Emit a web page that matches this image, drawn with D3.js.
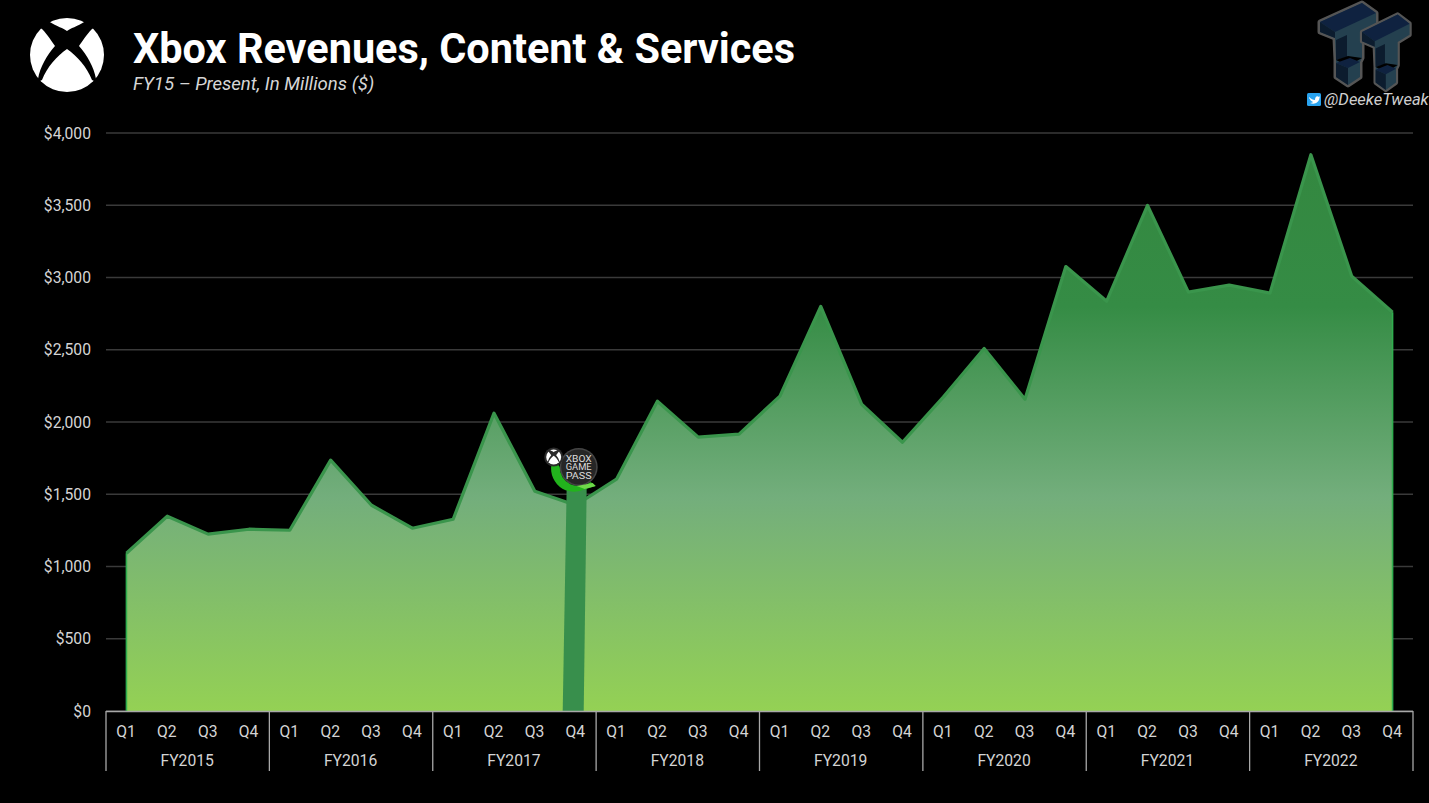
<!DOCTYPE html>
<html>
<head>
<meta charset="utf-8"/>
<script src="https://cdnjs.cloudflare.com/ajax/libs/d3/7.8.5/d3.min.js"></script>
<style>
  html, body { margin: 0; padding: 0; background: #000; overflow: hidden; }
  text { font-family: Roboto, sans-serif; }
</style>
</head>
<body>
<script>
// chart data
const years = ['FY2015', 'FY2016', 'FY2017', 'FY2018', 'FY2019', 'FY2020', 'FY2021', 'FY2022'];
const quarters = ['Q1', 'Q2', 'Q3', 'Q4'];
const revenue = [
  1092, 1348, 1224, 1258,
  1251, 1736, 1424, 1265,
  1327, 2061, 1521, 1424,
  1604, 2144, 1895, 1916,
  2179, 2800, 2123, 1860,
  2172, 2509, 2158, 3076,
  2836, 3499, 2899, 2947,
  2892, 3850, 3009, 2760
];
const yTicks = [0, 500, 1000, 1500, 2000, 2500, 3000, 3500, 4000];

const W = 1429, H = 803;
const plotL = 106, plotR = 1413, plotT = 133, plotB = 711;

const svg = d3.select('body').append('svg')
  .attr('width', W).attr('height', H)
  .style('display', 'block')
  .style('background', '#000');

// one key per quarter, e.g. FY2015-Q1
const keys = years.flatMap(y => quarters.map(q => y + '-' + q));
const points = keys.map((k, i) => ({ key: k, value: revenue[i] }));

const x = d3.scalePoint().domain(keys).range([plotL, plotR]).padding(0.5);
const step = x.step();
const y = d3.scaleLinear().domain([0, 4000]).range([plotB, plotT]);

// gradient fill
const defs = svg.append('defs');
const grad = defs.append('linearGradient').attr('id', 'areaFill')
  .attr('gradientUnits', 'userSpaceOnUse')
  .attr('x1', 0).attr('x2', 0).attr('y1', y(4000)).attr('y2', y(0));
grad.append('stop').attr('offset', '0').attr('stop-color', '#33873f');
grad.append('stop').attr('offset', '0.3').attr('stop-color', '#358c45');
grad.append('stop').attr('offset', '0.63').attr('stop-color', '#73ae7c');
grad.append('stop').attr('offset', '1').attr('stop-color', '#94d154');

// gridlines
svg.append('g').selectAll('line').data(yTicks).enter().append('line')
  .attr('x1', plotL).attr('x2', plotR)
  .attr('y1', d => y(d)).attr('y2', d => y(d))
  .attr('stroke', '#3a3a3a').attr('stroke-width', 1.3);

// y labels
svg.append('g').selectAll('text').data(yTicks).enter().append('text')
  .attr('x', 91).attr('y', d => y(d) + 5.7)
  .attr('text-anchor', 'end')
  .attr('font-size', 15.7).attr('fill', '#d4d4d4')
  .text(d => '$' + d3.format(',')(d));

// area
const area = d3.area().x(d => x(d.key)).y0(y(0)).y1(d => y(d.value));
const line = d3.line().x(d => x(d.key)).y(d => y(d.value));

svg.append('path').datum(points).attr('d', area).attr('fill', 'url(#areaFill)');

// side edges of the area
svg.append('g').selectAll('line').data([points[0], points[points.length - 1]]).enter().append('line')
  .attr('x1', d => x(d.key)).attr('x2', d => x(d.key))
  .attr('y1', d => y(d.value)).attr('y2', y(0))
  .attr('stroke', '#2fae4e').attr('stroke-width', 1.6);

svg.append('path').datum(points).attr('d', line)
  .attr('fill', 'none').attr('stroke', '#3a954c').attr('stroke-width', 3.2)
  .attr('stroke-linejoin', 'round');

// xbox sphere used by the header and the badge
function xboxLogo(parent, cx, cy, r, bg) {
  const g = parent.append('g').attr('transform', `translate(${cx},${cy}) scale(${r / 37})`);
  g.append('circle').attr('r', 37).attr('fill', '#fff');
  g.append('path').attr('fill', bg)
    .attr('d', 'M-19,-34 C-9,-28 -4,-27 0,-24 C4,-27 9,-28 19,-34 L32,-30 L25,-26 C19,-20 15,-13 12,-9 C20,0 27,12 29,24 L40,32 L25,25 C20,12 10,1 0,-6 C-10,1 -20,12 -25,25 L-40,32 L-29,24 C-27,12 -20,0 -12,-9 C-15,-13 -19,-20 -25,-26 L-32,-30 Z');
  return g;
}

// Game Pass launch marker at FY2017 Q4
const gpX = x('FY2017-Q4');
svg.append('path')
  .attr('d', `M${gpX - 13},${y(0)} L${gpX + 8},${y(0)} L${gpX + 11},${y(1560)} L${gpX - 9},${y(1560)} Z`)
  .attr('fill', '#388f4c');

const badge = svg.append('g').attr('transform', `translate(${gpX + 3},467)`);
badge.append('circle').attr('r', 19).attr('fill', '#454545');
badge.append('path')
  .attr('d', 'M-19,0 A19,19 0 0 0 12,15 L17,19 L4,23 A23,23 0 0 1 -25,-9 Z')
  .attr('fill', '#22b31d');
badge.append('path')
  .attr('d', 'M-2,19 L14,16 L17,19 L6,22 Z').attr('fill', '#6fd84a');
badge.append('circle').attr('r', 17.5).attr('fill', '#262626');
['XBOX', 'GAME', 'PASS'].forEach((t, i) => {
  badge.append('text').attr('x', 0).attr('y', -5.2 + i * 8.4)
    .attr('text-anchor', 'middle').attr('font-size', 8.4)
    .attr('textLength', 26).attr('lengthAdjust', 'spacingAndGlyphs')
    .attr('fill', '#dcdcdc').text(t);
});
badge.append('circle').attr('cx', -25).attr('cy', -10).attr('r', 9.5).attr('fill', '#2a2a2a');
xboxLogo(badge, -25, -10, 7.5, '#2a2a2a');

// x axis: quarters and fiscal years
const axisCol = '#a8a8a8';
const band = svg.append('g');
band.append('line').attr('x1', plotL).attr('x2', plotR).attr('y1', y(0) + 0.5).attr('y2', y(0) + 0.5)
  .attr('stroke', axisCol).attr('stroke-width', 1.3);
years.forEach((yr, i) => {
  const left = x(yr + '-Q1') - step / 2;
  const right = x(yr + '-Q4') + step / 2;
  band.append('line').attr('x1', left).attr('x2', left).attr('y1', y(0)).attr('y2', 771)
    .attr('stroke', axisCol).attr('stroke-width', 1.3);
  if (i === years.length - 1) {
    band.append('line').attr('x1', right).attr('x2', right).attr('y1', y(0)).attr('y2', 771)
      .attr('stroke', axisCol).attr('stroke-width', 1.3);
  }
  band.append('text').attr('x', (left + right) / 2 - 0.5).attr('y', 766)
    .attr('text-anchor', 'middle').attr('font-size', 15.7).attr('fill', '#d4d4d4').text(yr);
  quarters.forEach(q => {
    band.append('text').attr('x', x(yr + '-' + q) - 0.4).attr('y', 736.5)
      .attr('text-anchor', 'middle').attr('font-size', 15.7).attr('fill', '#d4d4d4').text(q);
  });
});

// header
xboxLogo(svg, 67, 55, 37, '#000');
svg.append('text').attr('x', 133).attr('y', 63)
  .attr('font-size', 43).attr('font-weight', 700).attr('fill', '#fff')
  .attr('textLength', 662).attr('lengthAdjust', 'spacingAndGlyphs')
  .text('Xbox Revenues, Content & Services');
svg.append('text').attr('x', 133).attr('y', 90)
  .attr('font-size', 18.6).attr('font-style', 'italic').attr('fill', '#d6d6d6')
  .text('FY15 – Present, In Millions ($)');

// TT watermark, top right
function letterT(g) {
  const outline = 'M1320,22 L1362,3 L1376,13 L1376,25 L1362,33 L1362,58 L1360,62 L1360,77 L1348,85 L1336,77 L1336,60 L1335,38 L1320,32 Z';
  g.append('path').attr('d', outline).attr('fill', '#555').attr('stroke', '#555')
    .attr('stroke-width', 5).attr('stroke-linejoin', 'round');
  g.append('path').attr('d', outline).attr('fill', '#24404f');
  g.append('path').attr('d', 'M1320,22 L1362,3 L1376,13 L1335,32 Z').attr('fill', '#0f2240');
  g.append('path').attr('d', 'M1320,22 L1335,32 L1335,38 L1320,32 Z').attr('fill', '#0c1c2e');
  g.append('path').attr('d', 'M1336,40 L1347,35 L1347,57 L1336,60 Z').attr('fill', '#0c1c2e');
  g.append('path').attr('d', 'M1336,60 L1348,56 L1362,58 L1348,66 Z').attr('fill', '#000');
  g.append('path').attr('d', 'M1336,63 L1350,58 L1360,62 L1348,68 Z').attr('fill', '#0f2240');
  g.append('path').attr('d', 'M1336,63 L1348,68 L1348,85 L1336,77 Z').attr('fill', '#0c1c2e');
}
letterT(svg.append('g'));
letterT(svg.append('g').attr('transform', 'translate(1362,32) scale(0.85,0.92) translate(-1320,-22)'));

// twitter handle
svg.append('rect').attr('x', 1307).attr('y', 93).attr('width', 14).attr('height', 13).attr('rx', 1.5).attr('fill', '#29a3ef');
svg.append('path').attr('fill', '#fff')
  .attr('d', 'M1309,97 C1311,99 1313,100 1315,100 C1315,97 1317,95 1319,97 L1320,96 L1319.5,98 C1319,102 1315,105 1310,103 C1312,103 1313,102 1313,102 C1311,101 1310,100 1310,99 C1309.5,99 1309,98 1309,97 Z');
svg.append('text').attr('x', 1324).attr('y', 105)
  .attr('font-size', 16.5).attr('font-style', 'italic').attr('fill', '#cfcfcf')
  .text('@DeekeTweak');
</script>
</body>
</html>
